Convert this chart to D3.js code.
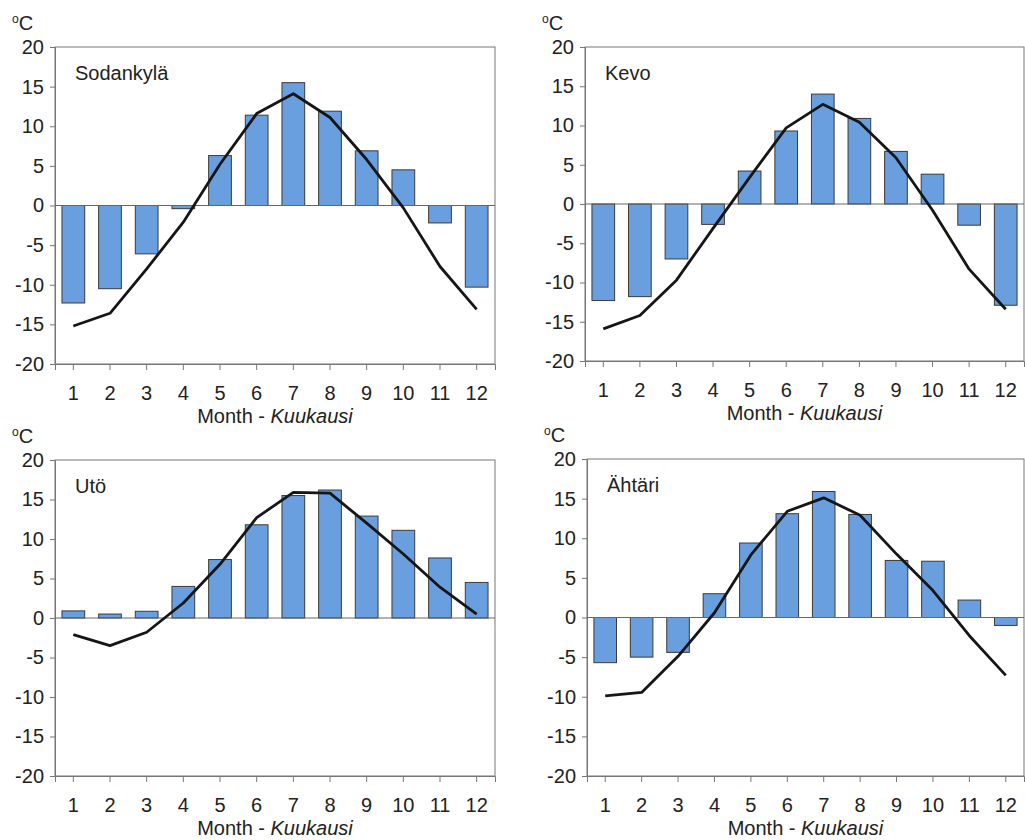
<!DOCTYPE html>
<html>
<head>
<meta charset="utf-8">
<script src="https://cdn.jsdelivr.net/npm/d3@7"></script>
<style>
  body { margin: 0; background: #fff; }
  svg { display: block; font-family: "Liberation Sans", Arial, sans-serif; }
</style>
</head>
<body>
<svg id="chart" width="1025" height="840"></svg>
<script>
const months = ["1","2","3","4","5","6","7","8","9","10","11","12"];
const yTicks = [-20, -15, -10, -5, 0, 5, 10, 15, 20];
const stations = ["Sodankylä", "Kevo", "Utö", "Ähtäri"];
const xTitle = "Month - ";
const xTitleItalic = "Kuukausi";

const sodankylaBars = [-12.3, -10.5, -6.1, -0.4, 6.3, 11.4, 15.5, 11.9, 6.9, 4.5, -2.2, -10.3];
const sodankylaLine = [-15.2, -13.6, -8.0, -2.1, 5.2, 11.6, 14.1, 11.1, 5.8, -0.3, -7.7, -13.1];
const kevoBars = [-12.3, -11.8, -7.0, -2.6, 4.2, 9.3, 14.0, 10.9, 6.7, 3.8, -2.7, -12.9];
const kevoLine = [-15.9, -14.2, -9.7, -3.1, 3.4, 9.7, 12.7, 10.4, 5.9, -0.8, -8.3, -13.4];
const utoBars = [0.9, 0.5, 0.85, 4.0, 7.4, 11.8, 15.5, 16.2, 12.9, 11.1, 7.6, 4.5];
const utoLine = [-2.1, -3.5, -1.8, 1.9, 6.8, 12.7, 15.9, 15.8, 12.0, 8.1, 3.9, 0.5];
const ahtariBars = [-5.7, -5.0, -4.4, 3.0, 9.4, 13.1, 15.9, 13.0, 7.2, 7.1, 2.2, -1.0];
const ahtariLine = [-9.9, -9.45, -4.9, 0.6, 7.9, 13.4, 15.1, 12.9, 8.0, 3.4, -2.3, -7.3];

const panels = [
  { name: stations[0], bars: sodankylaBars, line: sodankylaLine, box: { l: 55, r: 495, t: 47, b: 364 } },
  { name: stations[1], bars: kevoBars, line: kevoLine, box: { l: 585, r: 1024, t: 47, b: 361 } },
  { name: stations[2], bars: utoBars, line: utoLine, box: { l: 55, r: 495, t: 460, b: 776 } },
  { name: stations[3], bars: ahtariBars, line: ahtariLine, box: { l: 587, r: 1024, t: 459, b: 776 } }
];

const svg = d3.select("#chart");
const textColor = "#222";
const axisColor = "#777";

panels.forEach(p => {
  const { l, r, t, b } = p.box;
  const w = r - l, h = b - t;
  const g = svg.append("g").attr("transform", `translate(${l},${t})`);

  const x = d3.scaleBand().domain(months).range([0, w]).paddingInner(0.38).paddingOuter(0.19);
  const y = d3.scaleLinear().domain([-20, 20]).range([h, 0]);

  // plot frame
  g.append("rect").attr("x", 0).attr("y", 0).attr("width", w).attr("height", h)
    .attr("fill", "#fff").attr("stroke", axisColor).attr("stroke-width", 1);

  // y axis
  const ya = g.append("g").call(d3.axisLeft(y).tickValues(yTicks).tickFormat(d => String(d)).tickSize(5).tickPadding(6));
  ya.select(".domain").attr("stroke", axisColor);
  ya.selectAll(".tick line").attr("stroke", axisColor);
  ya.selectAll(".tick text").attr("font-size", 20).attr("fill", textColor)
    .attr("font-family", "Liberation Sans, Arial, sans-serif");

  // x axis
  const xa = g.append("g").attr("transform", `translate(0,${h})`)
    .call(d3.axisBottom(x).tickSize(6).tickPadding(8));
  xa.select(".domain").attr("stroke", axisColor);
  xa.selectAll(".tick line").attr("stroke", axisColor);
  xa.selectAll(".tick text").attr("font-size", 20).attr("fill", textColor)
    .attr("font-family", "Liberation Sans, Arial, sans-serif")
    .attr("y", 36).attr("dy", null);

  // bars
  g.selectAll("rect.bar").data(p.bars).join("rect").attr("class", "bar")
    .attr("x", (d, i) => x(months[i]))
    .attr("width", x.bandwidth())
    .attr("y", d => y(Math.max(0, d)))
    .attr("height", d => Math.abs(y(d) - y(0)))
    .attr("fill", "#6a9fdf")
    .attr("stroke", "#3a3a3a")
    .attr("stroke-width", 1);

  // zero line
  g.append("line").attr("x1", 0).attr("x2", w).attr("y1", y(0)).attr("y2", y(0))
    .attr("stroke", "#666").attr("stroke-width", 1);

  // line
  const line = d3.line().x((d, i) => x(months[i]) + x.bandwidth() / 2).y(d => y(d));
  g.append("path").datum(p.line).attr("d", line)
    .attr("fill", "none").attr("stroke", "#161616").attr("stroke-width", 2.8)
    .attr("stroke-linejoin", "round");

  // station name
  g.append("text").attr("x", 20).attr("y", 33).attr("font-size", 20).attr("fill", textColor)
    .text(p.name);

  // unit label
  const u = svg.append("text").attr("x", l - 43).attr("y", t - 17).attr("font-size", 20).attr("fill", textColor);
  u.append("tspan").attr("font-size", 12).attr("dy", -7).text("o");
  u.append("tspan").attr("dy", 7).text("C");

  // x title
  const xt = svg.append("text").attr("x", l + w / 2).attr("y", b + 59)
    .attr("text-anchor", "middle").attr("font-size", 20).attr("fill", textColor);
  xt.append("tspan").text(xTitle);
  xt.append("tspan").attr("font-style", "italic").text(xTitleItalic);
});
</script>
</body>
</html>
